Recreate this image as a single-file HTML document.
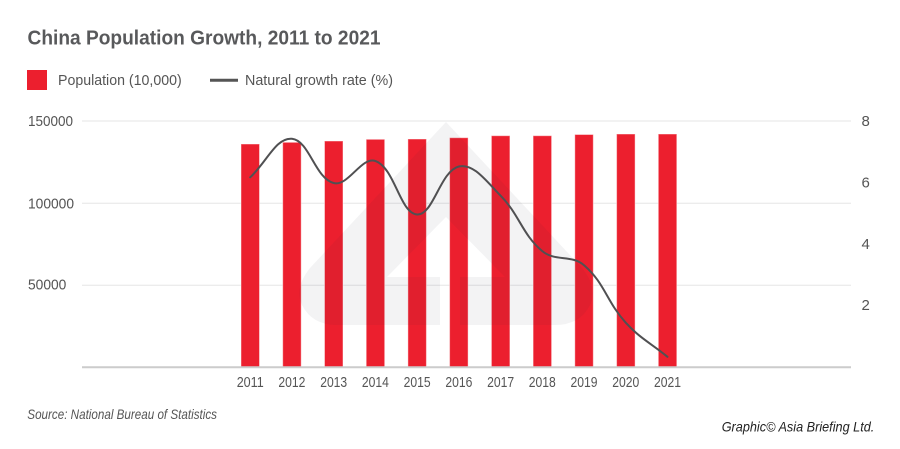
<!DOCTYPE html>
<html>
<head>
<meta charset="utf-8">
<style>
html,body{margin:0;padding:0;background:#fff;}
svg{display:block;}
text{font-family:"Liberation Sans",Arial,sans-serif;}
</style>
</head>
<body>
<svg width="900" height="449" viewBox="0 0 900 449" xmlns="http://www.w3.org/2000/svg">
  <rect width="900" height="449" fill="#fff"/>

  <!-- Title -->
  <text x="27.5" y="44.5" font-size="20" font-weight="bold" fill="#58595b" textLength="353" lengthAdjust="spacingAndGlyphs">China Population Growth, 2011 to 2021</text>

  <!-- Legend -->
  <rect x="27" y="70" width="20" height="20" fill="#ec1f2e"/>
  <text x="58" y="85" font-size="15" fill="#555" textLength="123.7" lengthAdjust="spacingAndGlyphs">Population (10,000)</text>
  <line x1="210" y1="80.3" x2="238" y2="80.3" stroke="#555" stroke-width="3"/>
  <text x="245" y="85" font-size="15" fill="#555" textLength="148" lengthAdjust="spacingAndGlyphs">Natural growth rate (%)</text>

  <!-- Gridlines -->
  <g stroke="#e6e6e6" stroke-width="1">
    <line x1="82" y1="121" x2="851" y2="121"/>
    <line x1="82" y1="203.3" x2="851" y2="203.3"/>
    <line x1="82" y1="285.3" x2="851" y2="285.3"/>
  </g>

  <!-- Left axis labels -->
  <g font-size="15" fill="#555">
    <text x="28" y="126" textLength="45" lengthAdjust="spacingAndGlyphs">150000</text>
    <text x="28" y="208.7" textLength="46" lengthAdjust="spacingAndGlyphs">100000</text>
    <text x="28" y="289.5" textLength="38.3" lengthAdjust="spacingAndGlyphs">50000</text>
  </g>

  <!-- Right axis labels -->
  <g font-size="15" fill="#555">
    <text x="861.5" y="126">8</text>
    <text x="861.5" y="187.3">6</text>
    <text x="861.5" y="249">4</text>
    <text x="861.5" y="310">2</text>
  </g>

  <!-- Bars -->
  <g fill="#ec1f2e" stroke="rgba(255,255,255,0.45)" stroke-width="1">
    <rect x="241.0" y="144.0" width="18.5" height="223.3"/>
    <rect x="282.7" y="142.3" width="18.5" height="225.0"/>
    <rect x="324.5" y="141.0" width="18.5" height="226.3"/>
    <rect x="366.2" y="139.3" width="18.5" height="228.0"/>
    <rect x="407.9" y="139.0" width="18.5" height="228.3"/>
    <rect x="449.6" y="137.7" width="18.5" height="229.6"/>
    <rect x="491.4" y="135.7" width="18.5" height="231.6"/>
    <rect x="533.1" y="135.7" width="18.5" height="231.6"/>
    <rect x="574.8" y="134.5" width="18.5" height="232.8"/>
    <rect x="616.6" y="134.0" width="18.5" height="233.3"/>
    <rect x="658.3" y="134.0" width="18.5" height="233.3"/>
  </g>

  <!-- Watermark overlay -->
  <path fill="rgba(30,30,60,0.055)" fill-rule="evenodd"
    d="M446,122 L582,268 Q598,288 590,305 Q580,325 555,325 L337,325 Q312,325 302,305 Q294,288 310,268 Z
       M446,217 L505,277 L460,277 L460,325 L440,325 L440,277 L387,277 Z"/>

  <!-- Baseline -->
  <line x1="82" y1="367.3" x2="851" y2="367.3" stroke="#cccccc" stroke-width="2"/>

  <!-- X labels -->
  <g font-size="14.5" fill="#555" text-anchor="middle">
    <text x="250.2" y="387" textLength="27" lengthAdjust="spacingAndGlyphs">2011</text>
    <text x="291.9" y="387" textLength="27" lengthAdjust="spacingAndGlyphs">2012</text>
    <text x="333.7" y="387" textLength="27" lengthAdjust="spacingAndGlyphs">2013</text>
    <text x="375.4" y="387" textLength="27" lengthAdjust="spacingAndGlyphs">2014</text>
    <text x="417.1" y="387" textLength="27" lengthAdjust="spacingAndGlyphs">2015</text>
    <text x="458.9" y="387" textLength="27" lengthAdjust="spacingAndGlyphs">2016</text>
    <text x="500.6" y="387" textLength="27" lengthAdjust="spacingAndGlyphs">2017</text>
    <text x="542.3" y="387" textLength="27" lengthAdjust="spacingAndGlyphs">2018</text>
    <text x="584.0" y="387" textLength="27" lengthAdjust="spacingAndGlyphs">2019</text>
    <text x="625.8" y="387" textLength="27" lengthAdjust="spacingAndGlyphs">2020</text>
    <text x="667.5" y="387" textLength="27" lengthAdjust="spacingAndGlyphs">2021</text>
  </g>

  <!-- Growth rate line -->
  <path fill="none" stroke="#505052" stroke-width="2" stroke-linejoin="round" stroke-linecap="round"
    d="M250.2,177.3
       C266.89,161.9 276.10,137.17 291.93,138.8
       C309.48,140.61 314.82,178 333.66,183
       C348.21,186.9 361.57,156.07 375.39,161
       C394.95,167.99 399.89,213.4 417.12,214.5
       C433.28,215.6 440.20,170.97 458.85,166.5
       C473.58,162.97 486.44,181.37 500.58,195.7
       C519.83,215.21 521.90,234.10 542.31,251.1
       C555.28,261.9 571.26,254.24 584.04,265.2
       C604.65,282.88 606.78,301.86 625.77,322.7
       C640.17,338.5 650.81,343.16 667.5,356.8"/>

  <!-- Footer -->
  <text x="27.3" y="419" font-size="14" font-style="italic" fill="#555" textLength="189.7" lengthAdjust="spacingAndGlyphs">Source: National Bureau of Statistics</text>
  <text x="721.7" y="431.7" font-size="14" font-style="italic" fill="#222" textLength="152.6" lengthAdjust="spacingAndGlyphs">Graphic© Asia Briefing Ltd.</text>
</svg>
</body>
</html>
